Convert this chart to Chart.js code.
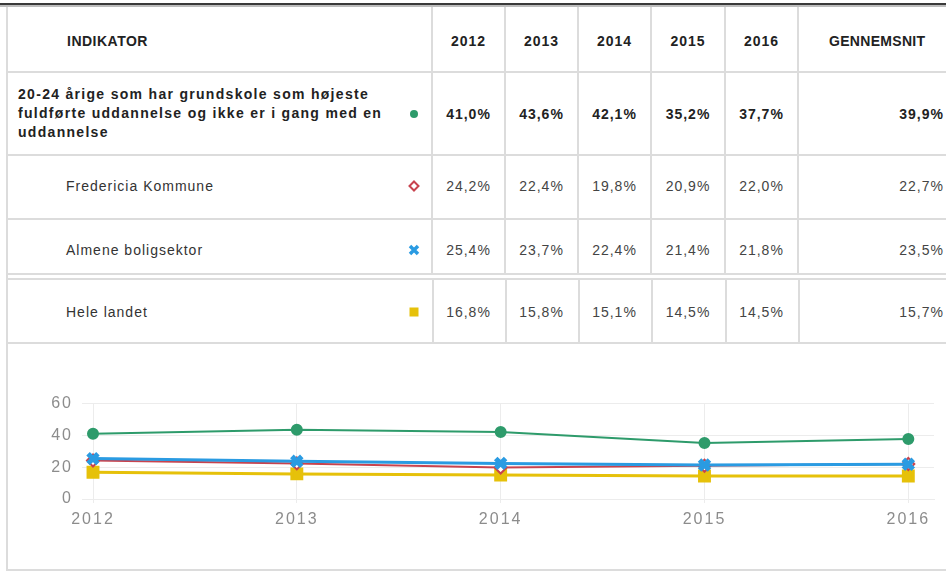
<!DOCTYPE html>
<html>
<head>
<meta charset="utf-8">
<script src="https://cdn.jsdelivr.net/npm/chart.js@4"></script>
<style>
body{margin:0;background:#fff;width:946px;height:574px;overflow:hidden;position:relative;font-family:"Liberation Sans",Arial,sans-serif;color:#333}
.h{position:absolute;height:2px;background:#dcdcdc}
.v{position:absolute;width:2px;background:#dcdcdc}
.c{position:absolute;display:flex;align-items:center;letter-spacing:1px;font-size:14px;white-space:nowrap}
.b{font-weight:bold;color:#222}
#wrap{position:absolute;left:8px;top:385px;width:938px;height:160px}
</style>
</head>
<body>
<div id="tbl"></div>
<div id="wrap"><canvas id="chart"></canvas></div>
<script>
// data
const years = [2012, 2013, 2014, 2015, 2016];
const indikatorer = [
    '20-24 årige som har grundskole som højeste fuldførte uddannelse og ikke er i gang med en uddannelse',
    'Fredericia Kommune',
    'Almene boligsektor',
    'Hele landet'
];
const ungeUdenUddannelse = [41.0, 43.6, 42.1, 35.2, 37.7];
const fredericia = [24.2, 22.4, 19.8, 20.9, 22.0];
const almene = [25.4, 23.7, 22.4, 21.4, 21.8];
const heleLandet = [16.8, 15.8, 15.1, 14.5, 14.5];
const gennemsnit = [39.9, 22.7, 23.5, 15.7];
const yTicks = [0, 20, 40, 60];

const farver = ['#2e9b6b', '#c8434e', '#2a9be2', '#e6c10a'];
const serier = [ungeUdenUddannelse, fredericia, almene, heleLandet];

const fmt = v => v.toFixed(1).replace('.', ',') + '%';

// tabel
const tbl = document.getElementById('tbl');
function add(cls, css, html) {
    const d = document.createElement('div');
    d.className = cls;
    d.style.cssText = css;
    if (html !== undefined) d.innerHTML = html;
    tbl.appendChild(d);
    return d;
}

add('', 'position:absolute;left:0;top:3px;width:946px;height:2px;background:#3a3a3a');
add('', 'position:absolute;left:0;top:5px;width:946px;height:2px;background:#bdbdbd');

[71, 154, 218, 273, 278, 342, 569].forEach(y => add('h', `left:6px;top:${y}px;width:940px`));
add('v', 'left:6px;top:7px;height:564px');
const colX = [431, 504, 577, 650, 724, 797, 946];
colX.slice(0, 6).forEach(x => {
    add('v', `left:${x}px;top:7px;height:267px`);
    add('v', `left:${x + 1}px;top:279px;height:64px`);
});

const rowY = [41, 114, 186, 250, 312];

add('c b', `left:67px;top:${rowY[0] - 15}px;height:30px;letter-spacing:0.5px`, 'INDIKATOR');
years.forEach((yr, i) => {
    add('c b', `left:${colX[i] + 2}px;top:${rowY[0] - 15}px;width:${colX[i + 1] - colX[i] - 2}px;height:30px;justify-content:center`, String(yr));
});
add('c b', `left:829px;top:${rowY[0] - 15}px;height:30px;letter-spacing:0.3px`, 'GENNEMSNIT');

const markers = [
    '<svg width="10" height="10"><circle cx="5" cy="5" r="4" fill="#2e9b6b"/></svg>',
    '<svg width="12" height="12"><path d="M6 1.5 L10.5 6 L6 10.5 L1.5 6 Z" fill="#fff" stroke="#c8434e" stroke-width="2"/></svg>',
    '<svg width="12" height="12"><path d="M2 2 L10 10 M10 2 L2 10" stroke="#2a9be2" stroke-width="3.5"/></svg>',
    '<svg width="10" height="10"><rect x="0.5" y="0.5" width="9" height="9" fill="#e6c10a"/></svg>'
];

indikatorer.forEach((navn, r) => {
    const y = rowY[r + 1];
    if (r === 0) {
        add('c b', `left:18px;top:${y - 29}px;width:392px;height:57px;white-space:normal;line-height:19px;letter-spacing:1.3px`, navn);
    } else {
        add('c', `left:66px;top:${y - 15}px;height:30px`, navn);
    }
    add('c', `left:408px;top:${y - 15}px;width:12px;height:30px;justify-content:center`, markers[r]);
    serier[r].forEach((v, i) => {
        add('c' + (r === 0 ? ' b' : ''), `left:${colX[i] + 2}px;top:${y - 15}px;width:${colX[i + 1] - colX[i] - 2}px;height:30px;justify-content:center;color:${r === 0 ? '#222' : '#444'}`, fmt(v));
    });
    add('c' + (r === 0 ? ' b' : ''), `left:800px;top:${y - 15}px;width:144px;height:30px;justify-content:flex-end;color:${r === 0 ? '#222' : '#444'}`, fmt(gennemsnit[r]));
});

// graf
const tickFont = { family: 'Liberation Sans', size: 16 };
const pts = arr => years.map((yr, i) => ({ x: yr, y: arr[i] }));

// bredere tekst på akserne
const spacing = {
    id: 'spacing',
    beforeUpdate: c => { c.ctx.letterSpacing = '2px'; },
    beforeDraw: c => { c.ctx.letterSpacing = '2px'; }
};

new Chart(document.getElementById('chart'), {
    type: 'line',
    data: {
        datasets: [
            { data: pts(ungeUdenUddannelse), borderColor: farver[0], backgroundColor: farver[0], borderWidth: 2, pointStyle: 'circle', pointRadius: 5, order: 0 },
            { data: pts(fredericia), borderColor: farver[1], backgroundColor: '#fff', borderWidth: 2, pointStyle: 'rectRot', pointRadius: 6, pointBorderWidth: 2, order: 2 },
            { data: pts(almene), borderColor: farver[2], backgroundColor: farver[2], borderWidth: 3, pointStyle: 'crossRot', pointRadius: 7, pointBorderWidth: 5, order: 1 },
            { data: pts(heleLandet), borderColor: farver[3], backgroundColor: farver[3], borderWidth: 3, pointStyle: 'rect', pointRadius: 7, order: 3 }
        ]
    },
    plugins: [spacing],
    options: {
        responsive: true,
        maintainAspectRatio: false,
        animation: false,
        clip: false,
        layout: { padding: { top: 16, right: 0, bottom: 0, left: 0 } },
        plugins: { legend: { display: false }, tooltip: { enabled: false } },
        elements: { line: { tension: 0 } },
        scales: {
            x: {
                type: 'linear',
                min: years[0],
                max: 2016.126,
                afterFit: s => { s.height = 46; },
                afterBuildTicks: s => { s.ticks = years.map(v => ({ value: v })); },
                ticks: { font: tickFont, color: '#8c8c8c', padding: 7, maxRotation: 0, autoSkip: false, callback: v => String(v) },
                grid: { color: '#ececec', tickLength: 4 },
                border: { color: '#ececec' }
            },
            y: {
                min: 0,
                max: 60,
                afterFit: s => { s.width = 85; },
                afterBuildTicks: s => { s.ticks = yTicks.map(v => ({ value: v })); },
                ticks: { font: tickFont, color: '#8c8c8c', padding: 9 },
                grid: { color: '#ececec', tickLength: 11 },
                border: { color: '#ececec' }
            }
        }
    }
});
</script>
</body>
</html>
